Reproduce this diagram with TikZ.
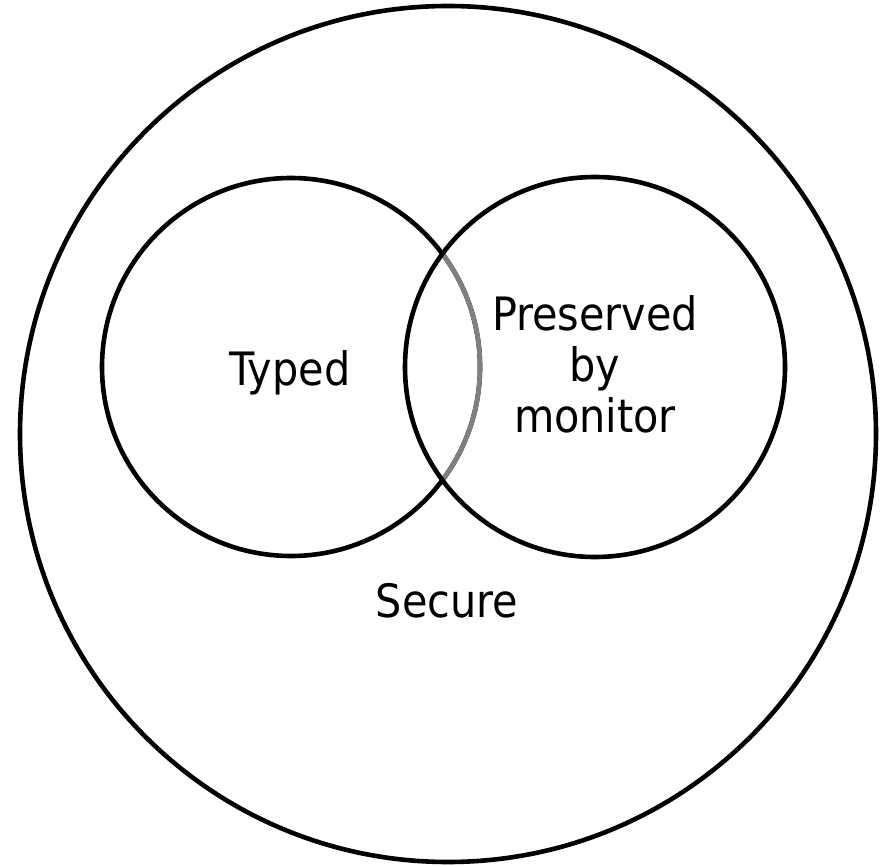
\documentclass[tikz,border=0pt]{standalone}
\usepackage{fontspec}
\setmainfont{DejaVu Sans Condensed}
\begin{document}
\begin{tikzpicture}[x=1pt,y=-1pt,
  ring/.style={draw=black,line width=4.6pt},
  lbl/.style={font=\fontsize{46}{51}\selectfont,inner sep=0pt,align=center}]
\useasboundingbox (0,0) rectangle (883,866);
% outer set
\node[circle,ring,minimum size=856pt,inner sep=0pt] (secure) at (448,434) {};
% inner sets
\node[circle,ring,minimum size=378pt,inner sep=0pt] (typed) at (291,367) {};
% part of the left set lying inside the right set, drawn grey
\begin{scope}
  \clip (595,367) circle (190pt);
  \draw[line width=4.6pt,draw=black!50] (291,367) circle (189pt);
\end{scope}
\node[circle,ring,minimum size=380pt,inner sep=0pt] (monitor) at (595,367) {};
% labels
\node[lbl,anchor=base] (tlabel) at (290,385) {Typed};
\node[lbl,anchor=base] (mlabel) at (595,432) {Preserved\\by\\monitor};
\node[lbl,anchor=base] (slabel) at (447,617) {Secure};
\end{tikzpicture}
\end{document}
